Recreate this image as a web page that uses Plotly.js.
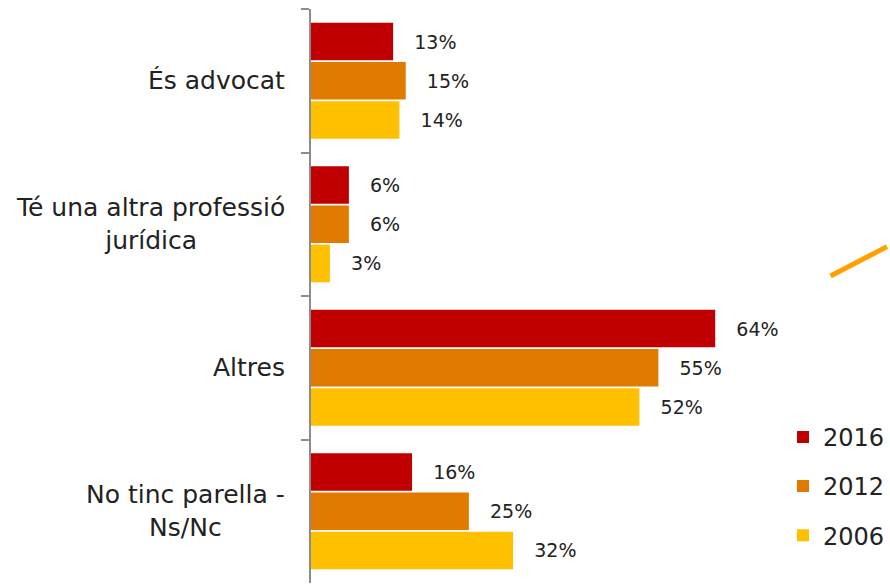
<!DOCTYPE html>
<html>
<head>
<meta charset="utf-8">
<script src="https://cdn.plot.ly/plotly-3.0.1.min.js"></script>
<style>
	html, body { margin: 0; padding: 0; background: #fff; }
	#chart { width: 890px; height: 587px; }
</style>
</head>
<body>
<div id="chart"></div>
<script>
(function () {

	'use strict';

	// categories, top to bottom
	const categories = [
		'És advocat',
		'Té una altra professió<br>jurídica',
		'Altres',
		'No tinc parella -<br>Ns/Nc',
	];

	// survey years
	const years = ['2016', '2012', '2006'];

	// values (%) per year
	const values2016 = [13, 6, 64, 16];
	const values2012 = [15, 6, 55, 25];
	const values2006 = [14, 3, 52, 32];

	const seriesValues = [values2016, values2012, values2006];
	const seriesColors = ['#C00000', '#E07B00', '#FFC000'];

	const fontFamily = '"DejaVu Sans", "Liberation Sans", sans-serif';
	const nbsp = '\u00a0';

	/**
	* one bar trace per year
	*/
	const data = years.map(( year, i ) => ({
		type: 'bar',
		orientation: 'h',
		name: year,
		legendgroup: year,
		y: categories,
		x: seriesValues[i],
		text: seriesValues[i].map( v => nbsp + nbsp + nbsp + v + '%' ),
		textposition: 'outside',
		constraintext: 'none',
		cliponaxis: false,
		textfont: { family: fontFamily, size: 19, color: '#222' },
		marker: { color: seriesColors[i], line: { width: 0 } },
		hovertemplate: '%{x}%<extra>' + year + '</extra>',
	}));

	// category labels as annotations, so two-line labels stay centred
	const annotations = categories.map( cat => ({
		xref: 'paper',
		yref: 'y',
		x: 0,
		y: cat,
		xanchor: 'right',
		yanchor: 'middle',
		xshift: -24,
		align: 'center',
		showarrow: false,
		text: cat,
		font: { family: fontFamily, size: 25, color: '#222' },
	}));

	const layout = {
		width: 890,
		height: 587,
		margin: { l: 311, r: 0, t: 9, b: 4 },
		paper_bgcolor: '#fff',
		plot_bgcolor: '#fff',
		barmode: 'group',
		bargap: 0.18,
		bargroupgap: 0.04,
		showlegend: true,
		legend: {
			x: 0.82,
			y: 0.293,
			xanchor: 'left',
			yanchor: 'top',
			tracegroupgap: 15,
			font: { family: fontFamily, size: 24, color: '#222' },
			bgcolor: 'rgba(0,0,0,0)',
		},
		xaxis: {
			range: [0, 91.2],
			visible: false,
			fixedrange: true,
		},
		yaxis: {
			type: 'category',
			autorange: 'reversed',
			showticklabels: false,
			showgrid: false,
			zeroline: false,
			showline: true,
			linecolor: '#8c8c8c',
			linewidth: 2,
			ticks: 'outside',
			tickson: 'boundaries',
			ticklen: 8,
			tickwidth: 2,
			tickcolor: '#8c8c8c',
			fixedrange: true,
		},
		annotations,
		// slide decoration in the top right corner
		shapes: [{
			type: 'line',
			xref: 'paper',
			yref: 'paper',
			x0: 0.902, y0: 0.535,
			x1: 1.0, y1: 0.586,
			line: { color: '#FFA000', width: 5 },
		}],
	};

	Plotly.newPlot('chart', data, layout, { displayModeBar: false, staticPlot: true });

})();
</script>
</body>
</html>
